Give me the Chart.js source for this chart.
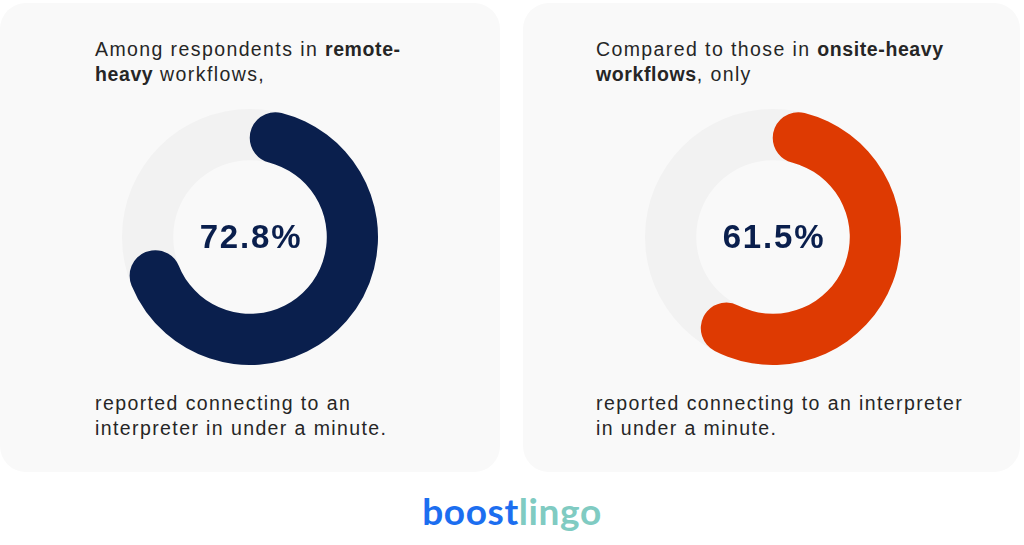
<!DOCTYPE html>
<html>
<head>
<meta charset="utf-8">
<script src="https://cdn.jsdelivr.net/npm/chart.js@4"></script>
<style>
  html, body { margin: 0; padding: 0; background: #ffffff; }
  body { width: 1024px; height: 545px; position: relative; overflow: hidden;
         font-family: "Liberation Sans", Arial, sans-serif; color: #262626; }
  .card { position: absolute; top: 3px; height: 469px; background: #f9f9f9; border-radius: 26px; }
  .txt { position: absolute; font-size: 19.5px; line-height: 25px; letter-spacing: 1.4px; white-space: nowrap; }
  .txt b { font-weight: 700; letter-spacing: 0.6px; }
  canvas { position: absolute; }
  .logo { position: absolute; left: 0; width: 1024px; top: 488px; text-align: center;
          font-family: Lato, "Noto Sans", sans-serif; font-weight: 700; font-size: 37px; letter-spacing: 0.6px; }
</style>
</head>
<body>
<div class="card" style="left:0px;width:500px;"></div>
<div class="card" style="left:523px;width:497px;"></div>

<div class="txt" style="left:95px;top:37px;">Among respondents in <b>remote-</b><br><b>heavy</b> workflows,</div>
<div class="txt" style="left:95px;top:391px;">reported connecting to an<br>interpreter in under a minute.</div>

<div class="txt" style="left:596px;top:37px;">Compared to those in <b>onsite-heavy</b><br><b>workflows</b>, only</div>
<div class="txt" style="left:596px;top:391px;">reported connecting to an interpreter<br>in under a minute.</div>

<canvas id="chartA" width="256" height="256" style="left:122px;top:109px;"></canvas>
<canvas id="chartB" width="256" height="256" style="left:645px;top:109px;"></canvas>

<div class="logo"><span style="color:#1c6ef0;">boost</span><span style="color:#80cbc2;">lingo</span></div>

<script>
const groups = ["remote-heavy", "onsite-heavy"];
const fastShare = [72.8, 61.5];
const centerLabels = ["72.8%", "61.5%"];
const arcColors = ["#0a1f4d", "#de3a02"];
const trackColor = "#f2f2f2";

// full grey ring behind the value arc
const trackPlugin = {
  id: "track",
  beforeDatasetsDraw(chart) {
    const arc = chart.getDatasetMeta(0).data[0];
    if (!arc) return;
    const c = chart.ctx;
    c.save();
    c.beginPath();
    c.arc(arc.x, arc.y, arc.outerRadius, 0, Math.PI * 2);
    c.arc(arc.x, arc.y, arc.innerRadius, Math.PI * 2, 0, true);
    c.closePath();
    c.fillStyle = trackColor;
    c.fill();
    c.restore();
  }
};

const centerText = {
  id: "centerText",
  afterDraw(chart, args, opts) {
    const arc = chart.getDatasetMeta(0).data[0];
    const c = chart.ctx;
    c.save();
    c.font = "bold 33px 'Liberation Sans', Arial, sans-serif";
    c.letterSpacing = "1.8px";
    c.fillStyle = "#0a1f4d";
    c.textAlign = "center";
    c.textBaseline = "middle";
    c.fillText(opts.text, arc.x + 1, arc.y + 2);
    c.restore();
  }
};

function makeDonut(id, i) {
  return new Chart(document.getElementById(id), {
    type: "doughnut",
    data: {
      labels: [groups[i], "other"],
      datasets: [{
        data: [fastShare[i], 100 - fastShare[i]],
        backgroundColor: [arcColors[i], "rgba(0,0,0,0)"],
        borderWidth: 0,
        borderRadius: [40, 0]
      }]
    },
    options: {
      responsive: false,
      animation: false,
      cutout: "60%",
      rotation: 0,
      plugins: {
        legend: { display: false },
        tooltip: { enabled: false },
        centerText: { text: centerLabels[i] }
      }
    },
    plugins: [trackPlugin, centerText]
  });
}

makeDonut("chartA", 0);
makeDonut("chartB", 1);
</script>
</body>
</html>
